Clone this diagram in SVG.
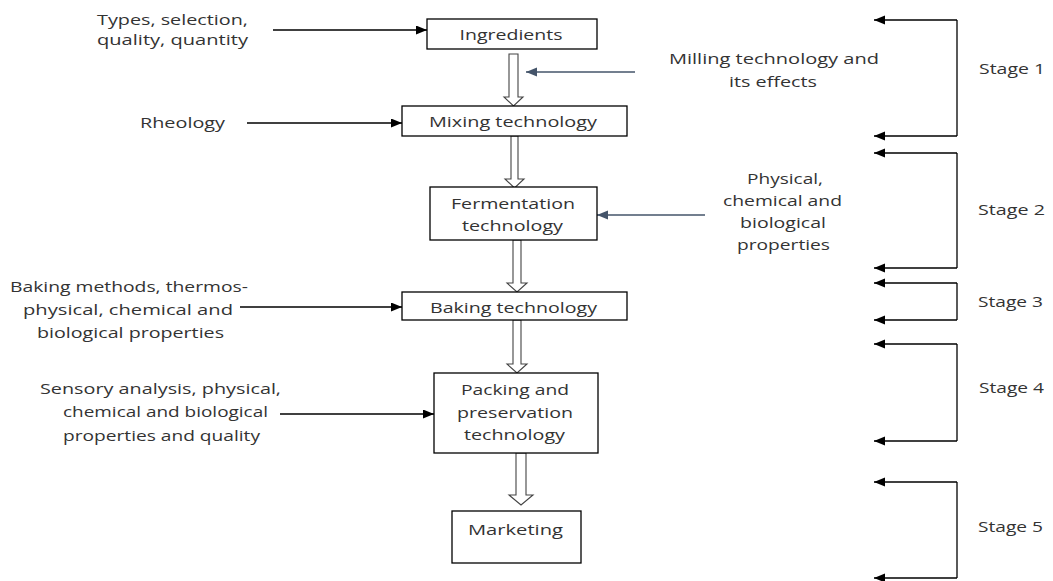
<svg xmlns="http://www.w3.org/2000/svg" width="1053" height="581" viewBox="0 0 1053 581">
<defs>
<marker id="ah" markerUnits="userSpaceOnUse" markerWidth="12" markerHeight="10" refX="11" refY="4.5" orient="auto"><path d="M0,0 L11,4.5 L0,9 Z" fill="#000"/></marker>
<marker id="ahs" markerUnits="userSpaceOnUse" markerWidth="12" markerHeight="10" refX="11" refY="4.5" orient="auto"><path d="M0,0 L11,4.5 L0,9 Z" fill="#44546A"/></marker>
<style>
text{font-family:"Open Sans","Liberation Sans",sans-serif;font-size:15px;fill:#333;text-anchor:middle}
.box{fill:#fff;stroke:#000;stroke-width:1.3}
.c{fill:none;stroke:#000;stroke-width:1.3}
.s{fill:none;stroke:#44546A;stroke-width:1.3}
.h{fill:#fff;stroke:#444;stroke-width:1.1}
</style>
</defs>
<rect width="1053" height="581" fill="#fff"/>
<g id="connectors">
<polygon class="h" points="509,54 518,54 518,97 523,97 513.5,106 504,97 509,97"/>
<polygon class="h" points="511,136 518,136 518,179 524,179 514.5,188 505,179 511,179"/>
<polygon class="h" points="513,240 521,240 521,283 527,283 517,292 507,283 513,283"/>
<polygon class="h" points="513,320 521,320 521,364 527,364 517,373 507,364 513,364"/>
<polygon class="h" points="516,453 526,453 526,495 533,495 521,505 509,495 516,495"/>
<line class="c" x1="273" y1="30" x2="427" y2="30" marker-end="url(#ah)"/>
<line class="c" x1="247" y1="123" x2="402" y2="123" marker-end="url(#ah)"/>
<line class="c" x1="240" y1="307" x2="402" y2="307" marker-end="url(#ah)"/>
<line class="c" x1="280" y1="414" x2="434" y2="414" marker-end="url(#ah)"/>
<line class="s" x1="635" y1="72" x2="526" y2="72" marker-end="url(#ahs)"/>
<line class="s" x1="705" y1="215" x2="597" y2="215" marker-end="url(#ahs)"/>
<path class="c" d="M957,20 V136"/>
<line class="c" x1="957" y1="20" x2="874" y2="20" marker-end="url(#ah)"/>
<line class="c" x1="957" y1="136" x2="874" y2="136" marker-end="url(#ah)"/>
<path class="c" d="M957,153 V268"/>
<line class="c" x1="957" y1="153" x2="874" y2="153" marker-end="url(#ah)"/>
<line class="c" x1="957" y1="268" x2="874" y2="268" marker-end="url(#ah)"/>
<path class="c" d="M957,283 V320"/>
<line class="c" x1="957" y1="283" x2="874" y2="283" marker-end="url(#ah)"/>
<line class="c" x1="957" y1="320" x2="874" y2="320" marker-end="url(#ah)"/>
<path class="c" d="M957,344 V441"/>
<line class="c" x1="957" y1="344" x2="874" y2="344" marker-end="url(#ah)"/>
<line class="c" x1="957" y1="441" x2="874" y2="441" marker-end="url(#ah)"/>
<path class="c" d="M957,482 V578"/>
<line class="c" x1="957" y1="482" x2="874" y2="482" marker-end="url(#ah)"/>
<line class="c" x1="957" y1="578" x2="874" y2="578" marker-end="url(#ah)"/>
</g>
<g id="ingredients"><rect class="box" x="427" y="19" width="170" height="30"/><text x="511" y="40" textLength="103" lengthAdjust="spacingAndGlyphs">Ingredients</text></g>
<g id="mixing"><rect class="box" x="402" y="106" width="225" height="30"/><text x="513" y="127" textLength="168" lengthAdjust="spacingAndGlyphs">Mixing technology</text></g>
<g id="fermentation"><rect class="box" x="430" y="187" width="167" height="53"/><text x="513" y="209" textLength="124" lengthAdjust="spacingAndGlyphs">Fermentation</text><text x="512.5" y="231" textLength="101" lengthAdjust="spacingAndGlyphs">technology</text></g>
<g id="baking"><rect class="box" x="402" y="292" width="225" height="28"/><text x="513.5" y="313" textLength="167" lengthAdjust="spacingAndGlyphs">Baking technology</text></g>
<g id="packing"><rect class="box" x="434" y="373" width="164" height="80"/><text x="515" y="395" textLength="108" lengthAdjust="spacingAndGlyphs">Packing and</text><text x="515" y="418" textLength="116" lengthAdjust="spacingAndGlyphs">preservation</text><text x="514.5" y="440" textLength="101" lengthAdjust="spacingAndGlyphs">technology</text></g>
<g id="marketing"><rect class="box" x="452" y="511" width="129" height="52"/><text x="515.5" y="535" textLength="95" lengthAdjust="spacingAndGlyphs">Marketing</text></g>
<g id="label-types"><text x="172.5" y="25" textLength="151" lengthAdjust="spacingAndGlyphs">Types, selection,</text><text x="172.5" y="45" textLength="151" lengthAdjust="spacingAndGlyphs">quality, quantity</text></g>
<g id="label-rheology"><text x="182.5" y="128" textLength="85" lengthAdjust="spacingAndGlyphs">Rheology</text></g>
<g id="label-milling"><text x="774" y="64" textLength="210" lengthAdjust="spacingAndGlyphs">Milling technology and</text><text x="773" y="87" textLength="88" lengthAdjust="spacingAndGlyphs">its effects</text></g>
<g id="label-physical"><text x="785" y="184" textLength="76" lengthAdjust="spacingAndGlyphs">Physical,</text><text x="782.5" y="206" textLength="119" lengthAdjust="spacingAndGlyphs">chemical and</text><text x="783" y="228" textLength="86" lengthAdjust="spacingAndGlyphs">biological</text><text x="783.5" y="250" textLength="93" lengthAdjust="spacingAndGlyphs">properties</text></g>
<g id="label-baking"><text x="129" y="292" textLength="238" lengthAdjust="spacingAndGlyphs">Baking methods, thermos-</text><text x="128" y="315" textLength="210" lengthAdjust="spacingAndGlyphs">physical, chemical and</text><text x="130.5" y="338" textLength="187" lengthAdjust="spacingAndGlyphs">biological properties</text></g>
<g id="label-sensory"><text x="160.5" y="394" textLength="241" lengthAdjust="spacingAndGlyphs">Sensory analysis, physical,</text><text x="165.5" y="417" textLength="205" lengthAdjust="spacingAndGlyphs">chemical and biological</text><text x="161.5" y="441" textLength="197" lengthAdjust="spacingAndGlyphs">properties and quality</text></g>
<g id="stages">
<text x="1012" y="74" textLength="66" lengthAdjust="spacingAndGlyphs">Stage 1</text>
<text x="1011.5" y="215" textLength="67" lengthAdjust="spacingAndGlyphs">Stage 2</text>
<text x="1010.5" y="307" textLength="65" lengthAdjust="spacingAndGlyphs">Stage 3</text>
<text x="1011.5" y="393" textLength="65" lengthAdjust="spacingAndGlyphs">Stage 4</text>
<text x="1010.5" y="532" textLength="65" lengthAdjust="spacingAndGlyphs">Stage 5</text>
</g>
</svg>
